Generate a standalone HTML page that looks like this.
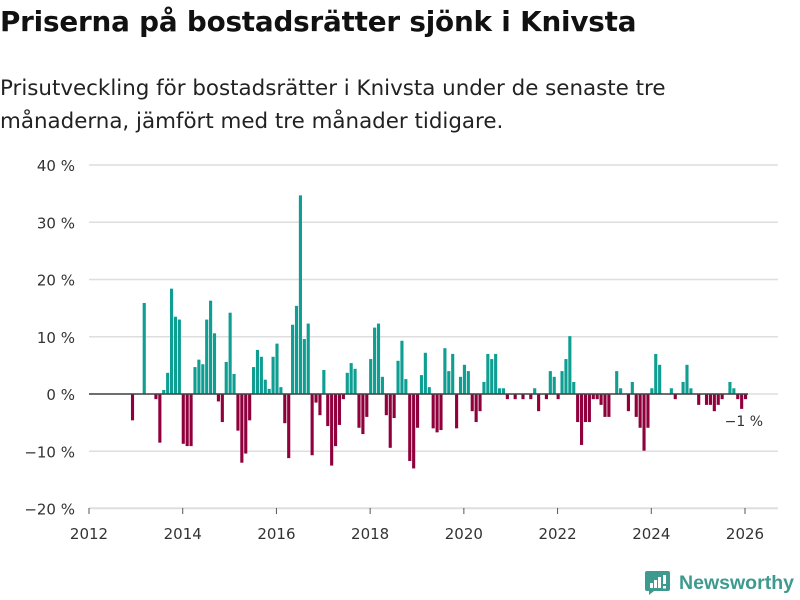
<!DOCTYPE html>
<html><head><meta charset="utf-8">
<style>
body{margin:0;background:#fff;font-family:"Liberation Sans","DejaVu Sans",sans-serif;}
#wrap{position:relative;width:800px;height:600px;overflow:hidden;}
h1{position:absolute;left:0;top:5px;margin:0;font-family:"DejaVu Sans",sans-serif;font-size:27.8px;font-weight:bold;color:#111;letter-spacing:-0.2px;}
p.sub{position:absolute;left:0;top:72px;margin:0;font-family:"DejaVu Sans",sans-serif;font-size:21.4px;line-height:33px;color:#222;}
</style></head><body>
<div id="wrap">
<h1>Priserna på bostadsrätter sjönk i Knivsta</h1>
<p class="sub">Prisutveckling för bostadsrätter i Knivsta under de senaste tre<br>månaderna, jämfört med tre månader tidigare.</p>
<svg id="chart" width="800" height="600" style="position:absolute;left:0;top:0"></svg>
</div>
<script>
// monthly values (%) starting Jan 2012; null = no bar
const startYear = 2012;
const values = [
null,null,null,null,null,null,null,null,null,null,null,-4.6,
null,null,15.9,null,null,-0.9,-8.5,0.7,3.7,18.4,13.5,13.0,
-8.7,-9.1,-9.1,4.7,6.0,5.2,13.0,16.3,10.6,-1.3,-4.9,5.6,
14.2,3.5,-6.4,-12.0,-10.4,-4.6,4.7,7.7,6.5,2.5,0.9,6.5,
8.8,1.2,-5.1,-11.2,12.1,15.4,34.7,9.6,12.3,-10.7,-1.5,-3.7,
4.2,-5.6,-12.5,-9.1,-5.4,-0.9,3.7,5.4,4.4,-5.9,-7.0,-4.0,
6.1,11.6,12.3,3.0,-3.7,-9.4,-4.2,5.8,9.3,2.6,-11.7,-13.0,
-5.9,3.3,7.2,1.2,-6.0,-6.7,-6.3,8.0,4.0,7.0,-6.0,3.0,
5.1,4.0,-3.0,-4.9,-3.0,2.1,7.0,6.1,7.0,1.0,1.0,-0.9,
null,-0.9,null,-0.9,null,-0.9,1.0,-3.0,null,-0.9,4.0,3.0,
-0.9,4.0,6.1,10.1,2.1,-4.9,-8.9,-4.9,-4.9,-0.9,-0.9,-1.9,
-4.0,-4.0,null,4.0,1.0,null,-3.0,2.1,-4.0,-5.9,-9.9,-5.9,
1.0,7.0,5.1,null,null,1.0,-0.9,null,2.1,5.1,1.0,null,
-1.9,null,-1.9,-1.9,-3.0,-1.9,-0.9,null,2.1,1.0,-0.9,-2.6,
-0.9
];
const yTicks = [40,30,20,10,0,-10,-20];
const yTickLabels = ["40 %","30 %","20 %","10 %","0 %","−10 %","−20 %"];
const xTicks = [2012,2014,2016,2018,2020,2022,2024,2026];
const lastLabel = "−1 %";

const NS="http://www.w3.org/2000/svg";
const svg=document.getElementById('chart');
const x0=89, x1=745, y0=394, yPer10=57.25;
const FONT='DejaVu Sans, sans-serif';
function xScale(monthIndex){return x0+monthIndex*(x1-x0)/(14*12);}
function yScale(v){return y0 - v*yPer10/10;}
function mk(tag,attrs){const e=document.createElementNS(NS,tag);for(const k in attrs)e.setAttribute(k,attrs[k]);svg.appendChild(e);return e;}

yTicks.forEach((t,i)=>{
  const g=mk('line',{x1:89,x2:778,y1:yScale(t),y2:yScale(t),stroke:'#dedede','stroke-width':1.5});
  
  
  const tx=mk('text',{x:75,y:yScale(t)+6,'text-anchor':'end','font-size':15,fill:'#333','font-family':FONT});
  tx.textContent=yTickLabels[i];
  
  
});

const bw=(x1-x0)/(14*12)*0.8;
values.forEach((v,m)=>{
  if(v===null)return;
  const x=xScale(m)-1;
  const y=v>=0?yScale(v):yScale(0);
  const h=Math.abs(yScale(v)-yScale(0));
  const r=mk('rect',{x:x,y:y,width:bw,height:h,fill:v>=0?'#0e9e92':'#8f003c'});
  
  
});
const zero=mk('line',{x1:89,x2:748,y1:y0,y2:y0,stroke:'#444','stroke-width':1.5});



const ax=mk('line',{x1:89,x2:778,y1:508,y2:508,stroke:'#dedede','stroke-width':1.5});


xTicks.forEach(yr=>{
  const xx=xScale((yr-startYear)*12);
  const tk=mk('line',{x1:xx,x2:xx,y1:508,y2:514,stroke:'#555','stroke-width':1});
  
  
  const tx=mk('text',{x:xx,y:539,'text-anchor':'middle','font-size':15,fill:'#333','font-family':FONT});
  tx.textContent=String(yr);
  
  
});
const lastIdx=values.length-1;
const ll=mk('text',{x:xScale(lastIdx)+18,y:yScale(values[lastIdx])+27,'text-anchor':'end','font-size':14,fill:'#333','font-family':FONT});
ll.textContent=lastLabel;



// logo
const lg=mk('g',{});


const ic=document.createElementNS(NS,'path');
ic.setAttribute('d','M647 571 h21 a2 2 0 0 1 2 2 v16 a2 2 0 0 1 -2 2 h-14 l-5 4 v-4 h-2 a2 2 0 0 1 -2 -2 v-16 a2 2 0 0 1 2 -2z');
ic.setAttribute('fill','#3e9a8f');


lg.appendChild(ic);
[[650,583,3,5],[654,580,3,8],[658,577,3,11],[663,575,3,9],[663,586,3,2.5]].forEach(b=>{
  const r=document.createElementNS(NS,'rect');
  r.setAttribute('x',b[0]);r.setAttribute('y',b[1]);r.setAttribute('width',b[2]);r.setAttribute('height',b[3]);r.setAttribute('fill','#fff');
  
  
  lg.appendChild(r);
});
const lt=document.createElementNS(NS,'text');
lt.setAttribute('x',679);lt.setAttribute('y',589);lt.setAttribute('font-size',19.5);lt.setAttribute('font-weight','bold');
lt.setAttribute('fill','#3e9a8f');lt.setAttribute('font-family','Liberation Sans, sans-serif');
lt.setAttribute('textLength','115');
lt.textContent='Newsworthy';


lg.appendChild(lt);
svg.appendChild(lg);
</script>
</body></html>
